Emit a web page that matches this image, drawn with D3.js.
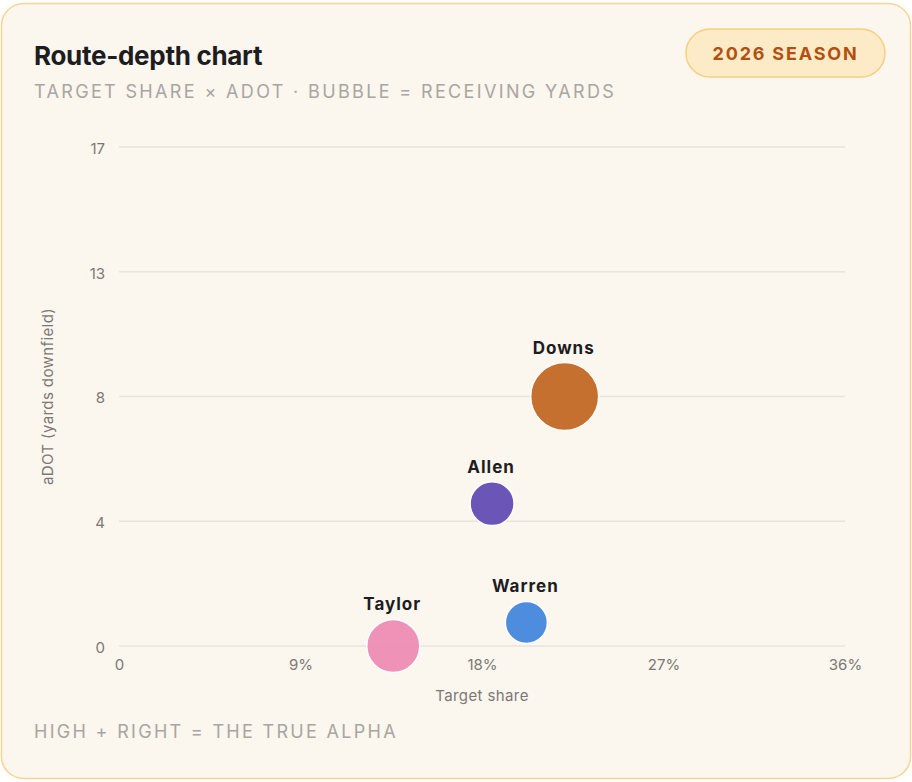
<!DOCTYPE html>
<html><head><meta charset="utf-8">
<script src="https://cdn.jsdelivr.net/npm/d3@7"></script>
<style>
body{margin:0;background:#fff;font-family:Inter,"Noto Sans",sans-serif;}
</style></head><body>
<svg id="chart" width="912" height="782"></svg>
<script>
// data
var players = ["Downs", "Allen", "Warren", "Taylor"];
var targetShare = [22.1, 18.5, 20.2, 13.6];
var adot = [8.5, 4.85, 0.8, 0.0];
var recYards = [1150, 480, 440, 700];
var colors = ["#c0621a", "#5b45b0", "#3b82dc", "#ec88b0"];
var xTicks = [0, 9, 18, 27, 36];
var yTicks = [0, 4.25, 8.5, 12.75, 17];
var yTickLabels = ["0", "4", "8", "13", "17"];

var svg = d3.select("#chart");
var margin = { top: 147, right: 67, bottom: 136, left: 119 },
    width = 912 - margin.left - margin.right,
    height = 782 - margin.top - margin.bottom;

svg.append("rect").attr("x", 1.5).attr("y", 3.5).attr("width", 909).attr("height", 775)
    .attr("rx", 22).attr("fill", "#fbf6ee").attr("stroke", "#f6d592").attr("stroke-width", 1.5);

svg.append("text").attr("x", 34).attr("y", 65).text("Route-depth chart")
    .attr("font-size", 26).attr("font-weight", 700).attr("fill", "#1d1d1f").attr("letter-spacing", "-0.3");
svg.append("text").attr("x", 34).attr("y", 98).text("TARGET SHARE × ADOT · BUBBLE = RECEIVING YARDS")
    .attr("font-size", 18).attr("fill", "#a9a5a1").attr("letter-spacing", "2.35");
svg.append("text").attr("x", 34).attr("y", 738).text("HIGH + RIGHT = THE TRUE ALPHA")
    .attr("font-size", 18).attr("fill", "#a9a5a1").attr("letter-spacing", "2.3");

svg.append("rect").attr("x", 686).attr("y", 29).attr("width", 199).attr("height", 48).attr("rx", 24)
    .attr("fill", "#fdebc8").attr("stroke", "#f6cf80").attr("stroke-width", 1.5);
svg.append("text").attr("x", 785.5).attr("y", 60).attr("text-anchor", "middle").text("2026 SEASON")
    .attr("font-size", 18).attr("font-weight", 700).attr("fill", "#b4500f").attr("letter-spacing", "1.8");

var g = svg.append("g").attr("transform", "translate(" + margin.left + "," + margin.top + ")");

var x = d3.scaleLinear().domain([0, 36]).range([0, width]);
var y = d3.scaleLinear().domain([0, 17]).range([height, 0]);
var r = d3.scaleSqrt().domain([0, 1150]).range([0, 34]);

g.selectAll(".grid").data(yTicks).enter().append("line")
    .attr("x1", 0).attr("x2", width).attr("y1", function (d) { return y(d); }).attr("y2", function (d) { return y(d); })
    .attr("stroke", "#e8e3dc").attr("stroke-width", 1.5);

var yAxis = g.append("g").call(d3.axisLeft(y).tickValues(yTicks).tickSize(0).tickPadding(14)
    .tickFormat(function (d, i) { return yTickLabels[i]; }));
var xAxis = g.append("g").attr("transform", "translate(0," + height + ")")
    .call(d3.axisBottom(x).tickValues(xTicks).tickSize(0).tickPadding(13)
    .tickFormat(function (d) { return d === 0 ? "0" : d + "%"; }));
[xAxis, yAxis].forEach(function (a) {
    a.select(".domain").remove();
    a.selectAll("text").attr("font-size", 15).attr("fill", "#7b7874").attr("font-family", "Inter,sans-serif");
});
yAxis.selectAll("text").attr("dy", "0.42em");

g.append("text").attr("x", width / 2).attr("y", height + 55).attr("text-anchor", "middle")
    .text("Target share").attr("font-size", 15).attr("fill", "#7b7874").attr("letter-spacing", "0.4");
g.append("text").attr("transform", "translate(-66," + (height / 2) + ") rotate(-90)").attr("text-anchor", "middle")
    .text("aDOT (yards downfield)").attr("font-size", 15).attr("fill", "#7b7874").attr("letter-spacing", "0.4");

var idx = d3.range(players.length);
g.selectAll(".bubble").data(idx).enter().append("circle")
    .attr("cx", function (i) { return x(targetShare[i]); })
    .attr("cy", function (i) { return y(adot[i]); })
    .attr("r", function (i) { return r(recYards[i]); })
    .attr("fill", function (i) { return colors[i]; }).attr("fill-opacity", 0.9)
    .attr("stroke", "#fff").attr("stroke-width", 1.5);

g.selectAll(".lbl").data(idx).enter().append("text")
    .attr("x", function (i) { return x(targetShare[i]) - 1; })
    .attr("y", function (i) { return y(adot[i]) - r(recYards[i]) - 9; })
    .attr("text-anchor", "middle").text(function (i) { return players[i]; })
    .attr("font-size", 17).attr("font-weight", 700).attr("fill", "#1d1d1f").attr("letter-spacing", "1");
</script>
</body></html>
